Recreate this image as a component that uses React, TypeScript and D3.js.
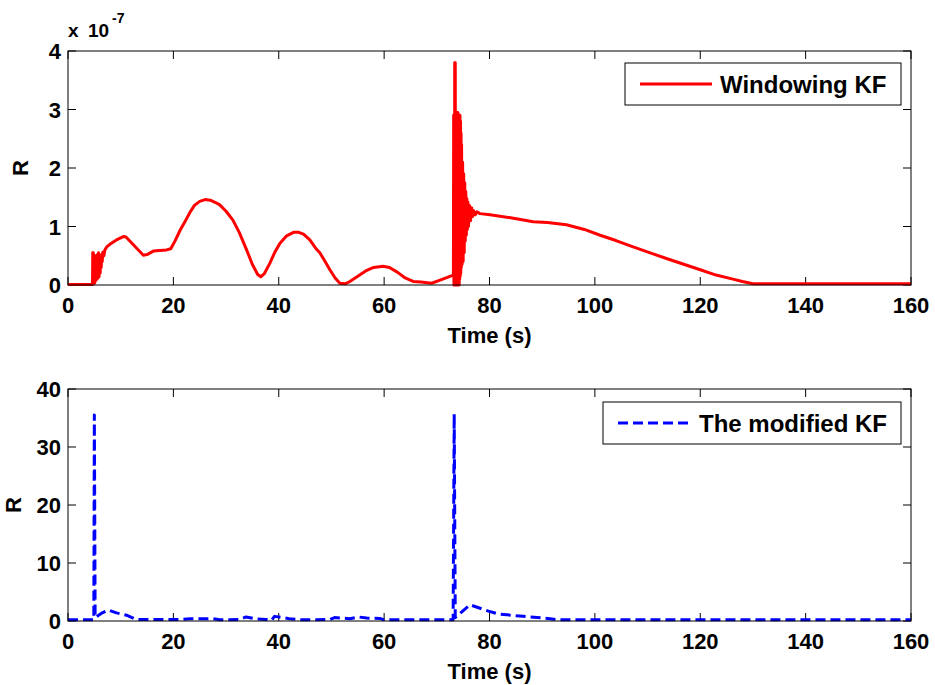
import React from 'react';
import * as d3 from 'd3';

type Pt = [number, number];

// Windowing KF: [time (s), R in units of 1e-7]
const windowStart: Pt[] = [
  [0, 0.01], [4.65, 0.01], [4.7, 0.55], [4.75, 0.02], [4.8, 0.55], [4.85, 0.02], [4.9, 0.5],
  [4.95, 0.03], [5.0, 0.5], [5.05, 0.03], [5.1, 0.5], [5.15, 0.05], [5.2, 0.5], [5.3, 0.08],
  [5.4, 0.48], [5.5, 0.1], [5.6, 0.52], [5.7, 0.12], [5.8, 0.55], [5.9, 0.14], [6.0, 0.5],
  [6.1, 0.2], [6.2, 0.47], [6.3, 0.3], [6.4, 0.52], [6.5, 0.4], [6.6, 0.56], [6.8, 0.5],
  [7.0, 0.6], [7.35, 0.65], [8, 0.7],
];
const windowMiddle: Pt[] = [
  [9.2, 0.77], [10.6, 0.83], [11, 0.82], [12.5, 0.68], [14.3, 0.51], [15, 0.52], [16.2, 0.58],
  [18.7, 0.6], [19.5, 0.62], [20.3, 0.75], [21.3, 0.94], [22.3, 1.1], [23.2, 1.25], [24, 1.36],
  [25, 1.43], [26, 1.46], [27, 1.45], [28, 1.41], [28.8, 1.37], [30, 1.26], [31.3, 1.11],
  [32.5, 0.9], [33.9, 0.6], [35, 0.35], [36, 0.18], [36.6, 0.14], [37.3, 0.2], [38.3, 0.37],
  [39.2, 0.55], [40.2, 0.71], [41.5, 0.84], [42.8, 0.9], [43.8, 0.9], [44.7, 0.87], [45.9, 0.77],
  [47, 0.63], [47.8, 0.55], [48.8, 0.4], [49.7, 0.26], [50.7, 0.12], [51.6, 0.03], [52.6, 0.02],
  [53.5, 0.06], [55, 0.15], [56.5, 0.24], [58, 0.3], [59.8, 0.32], [61, 0.3], [62.5, 0.22],
  [64, 0.12], [65.5, 0.06], [67, 0.05], [68.2, 0.04], [69, 0.03], [70.5, 0.08], [72, 0.13],
  [73.1, 0.17],
];
const windowSpike: Pt[] = [
  [73.15, 0.17], [73.2, 2.9], [73.25, 0.0], [73.3, 2.9], [73.35, 0.0], [73.4, 3.8], [73.45, 0.0],
  [73.5, 3.8], [73.55, 0.0], [73.6, 2.95], [73.65, 0.0], [73.7, 2.95], [73.75, 0.0], [73.8, 2.95],
  [73.85, 0.0], [73.9, 2.95], [73.95, 0.0], [74.0, 2.95], [74.05, 0.0], [74.1, 2.9], [74.15, 0.0],
  [74.2, 2.9], [74.25, 0.0], [74.3, 2.9], [74.35, 0.1], [74.4, 2.9], [74.45, 0.15], [74.5, 2.8],
  [74.55, 0.2], [74.6, 2.6], [74.65, 0.3], [74.7, 2.4], [74.8, 0.35], [74.9, 2.1], [75.0, 0.4],
  [75.1, 1.9], [75.2, 0.55], [75.3, 1.75], [75.4, 0.75], [75.5, 1.6], [75.6, 0.85], [75.7, 1.48],
  [75.8, 0.95], [75.9, 1.42], [76.0, 1.0], [76.2, 1.36], [76.4, 1.1], [76.6, 1.32], [76.8, 1.17],
  [77.0, 1.27], [77.3, 1.2], [77.6, 1.25], [78.2, 1.22],
];
const windowTail: Pt[] = [
  [80.1, 1.2], [84, 1.15], [88.3, 1.08], [91, 1.07], [94.6, 1.03], [98, 0.95], [101, 0.85],
  [104, 0.76], [107, 0.66], [110.5, 0.55], [114, 0.44], [117, 0.35], [120, 0.26], [123, 0.17],
  [126.2, 0.1], [128, 0.06], [130, 0.02], [135, 0.02], [160, 0.02],
];
const windowKF: Pt[] = [...windowStart, ...windowMiddle, ...windowSpike, ...windowTail];

// The modified KF: [time (s), R]
const modifiedKF: Pt[] = [
  [0, 0.2], [4.9, 0.2], [5.0, 35.5], [5.15, 0.6], [6.3, 1.3], [7.6, 1.9], [9.2, 1.4], [11.1, 1.0],
  [13, 0.25], [21, 0.25], [23.2, 0.4], [27.5, 0.4], [28.8, 0.2], [32.5, 0.25], [33.8, 0.7],
  [35.7, 0.35], [37.6, 0.25], [38.6, 0.1], [39.2, 0.8], [42, 0.4], [44, 0.2], [49.7, 0.25],
  [50.6, 0.6], [53.5, 0.4], [55.1, 0.7], [56.7, 0.5], [59.2, 0.45], [60, 0.2], [73.1, 0.2],
  [73.3, 35.7], [73.5, 0.6], [76.3, 2.8], [79.8, 1.7], [81.8, 1.2], [86.4, 0.8], [91.5, 0.4],
  [93, 0.2], [160, 0.2],
];

const xTicks = [0, 20, 40, 60, 80, 100, 120, 140, 160];
const yTicksTop = [0, 1, 2, 3, 4];
const yTicksBottom = [0, 10, 20, 30, 40];

const FONT = '"Liberation Sans", Arial, Helvetica, sans-serif';
const W = 935;
const H = 685;
const left = 68;
const right = 911;
const TICK = 8;

type PanelProps = {
  top: number;
  bottom: number;
  data: Pt[];
  yMax: number;
  yTicks: number[];
  color: string;
  dash?: string;
  labelX: number;
  legend: { x0: number; x1: number; y0: number; y1: number; s0: number; s1: number; tx: number; text: string };
};

function Panel({ top, bottom, data, yMax, yTicks, color, dash, labelX, legend }: PanelProps) {
  const x = d3.scaleLinear().domain([0, 160]).range([left, right]);
  const y = d3.scaleLinear().domain([0, yMax]).range([bottom, top]);
  const path = d3
    .line<Pt>()
    .x((d) => x(d[0]))
    .y((d) => y(d[1]))(data);
  const ly = (legend.y0 + legend.y1) / 2;

  return (
    <g>
      {xTicks.map((v) => (
        <g key={'x' + v}>
          <line x1={x(v)} x2={x(v)} y1={bottom} y2={bottom - TICK} stroke="#000" />
          <line x1={x(v)} x2={x(v)} y1={top} y2={top + TICK} stroke="#000" />
          <text x={x(v)} y={bottom + 28} textAnchor="middle" fontSize={22} fontWeight="bold" fontFamily={FONT}>
            {v}
          </text>
        </g>
      ))}
      {yTicks.map((v) => (
        <g key={'y' + v}>
          <line x1={left} x2={left + TICK} y1={y(v)} y2={y(v)} stroke="#000" />
          <line x1={right} x2={right - TICK} y1={y(v)} y2={y(v)} stroke="#000" />
          <text x={61} y={y(v) + 8} textAnchor="end" fontSize={22} fontWeight="bold" fontFamily={FONT}>
            {v}
          </text>
        </g>
      ))}
      <path d={path ?? ''} fill="none" stroke={color} strokeWidth={3} strokeDasharray={dash} strokeLinejoin="round" />
      <rect x={left} y={top} width={right - left} height={bottom - top} fill="none" stroke="#000" />
      <text x={(left + right) / 2} y={bottom + 58} textAnchor="middle" fontSize={22} fontWeight="bold" fontFamily={FONT}>
        Time (s)
      </text>
      <text
        transform={`translate(${labelX},${(top + bottom) / 2}) rotate(-90)`}
        textAnchor="middle"
        fontSize={22}
        fontWeight="bold"
        fontFamily={FONT}
      >
        R
      </text>
      <rect x={legend.x0} y={legend.y0} width={legend.x1 - legend.x0} height={legend.y1 - legend.y0} fill="#fff" stroke="#000" />
      <line x1={legend.s0} x2={legend.s1} y1={ly} y2={ly} stroke={color} strokeWidth={3} strokeDasharray={dash} />
      <text x={legend.tx} y={ly + 9} fontSize={24} fontWeight="bold" fontFamily={FONT}>
        {legend.text}
      </text>
    </g>
  );
}

export default function App() {
  return (
    <div style={{ position: 'absolute', left: 0, top: 0, background: '#fff' }}>
      <svg width={W} height={H} style={{ display: 'block' }}>
        <rect width={W} height={H} fill="#fff" />
        <text x={68} y={37} fontSize={19} fontWeight="bold" fontFamily={FONT}>
          x
        </text>
        <text x={88} y={37} fontSize={19} fontWeight="bold" fontFamily={FONT}>
          10
        </text>
        <text x={112} y={23} fontSize={14} fontWeight="bold" fontFamily={FONT}>
          -7
        </text>
        <Panel
          top={51}
          bottom={285}
          data={windowKF}
          yMax={4}
          yTicks={yTicksTop}
          color="#ff0000"
          labelX={28}
          legend={{ x0: 625, x1: 901, y0: 63, y1: 105, s0: 640, s1: 712, tx: 720, text: 'Windowing KF' }}
        />
        <Panel
          top={389}
          bottom={621}
          data={modifiedKF}
          yMax={40}
          yTicks={yTicksBottom}
          color="#0000ff"
          dash="10,5"
          labelX={21}
          legend={{ x0: 603, x1: 901, y0: 402, y1: 444, s0: 618, s1: 688, tx: 699, text: 'The modified KF' }}
        />
      </svg>
    </div>
  );
}
